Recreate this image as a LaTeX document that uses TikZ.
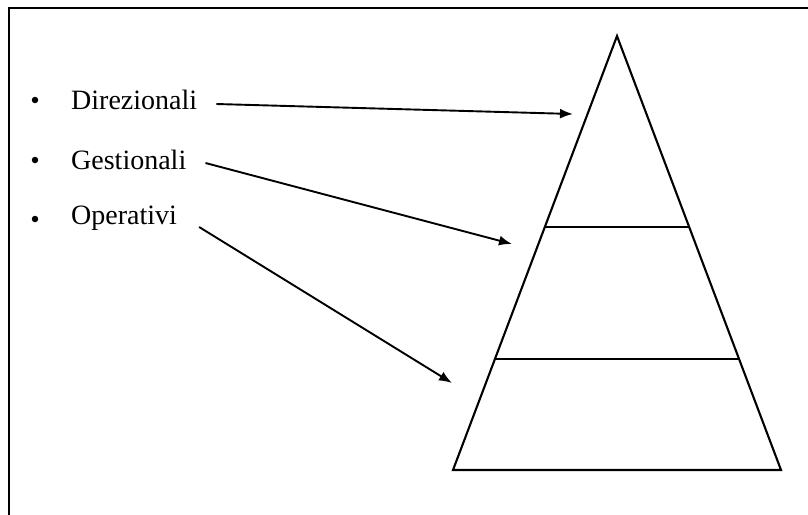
\documentclass[tikz,border=0pt]{standalone}
\usepackage{fontspec}
\setmainfont{Liberation Serif}
\usetikzlibrary{arrows.meta,positioning,calc}
\tikzset{
  livello/.style={font=\fontsize{28}{34}\selectfont, inner sep=0pt, anchor=west},
  punto/.style={circle, fill=black, inner sep=0pt, minimum size=6.5pt},
  freccia/.style={line width=1.9pt, -{Latex[length=13pt,width=10pt]}},
  piramide/.style={line width=2.1pt, line join=miter},
  divisore/.style={line width=2.7pt},
  cornice/.style={line width=2.8pt},
}

\begin{document}
\begin{tikzpicture}[x=1pt, y=-1pt]
\useasboundingbox (0,0) rectangle (808,514);
% Frame (open to the right and bottom)
\draw[cornice] (9,520) -- (9,8) -- (820,8);

% Pyramid
\coordinate (apice) at (617,36);
\coordinate (bsx) at (453,470);
\coordinate (bdx) at (781,470);
\draw[piramide] (apice) -- (bsx) -- (bdx) -- cycle;
\draw[divisore] ($(apice)!0.44!(bsx)$) -- ($(apice)!0.44!(bdx)$);
\draw[divisore] ($(apice)!0.744!(bsx)$) -- ($(apice)!0.744!(bdx)$);

% Levels
\node[livello] (dir) at (71,100) {Direzionali};
\node[livello] (ges) at (71,160) {Gestionali};
\node[livello] (ope) at (71,218) {Operativi};
\node[punto] (p1) at (35,100) {};
\node[punto] (p2) at (35,160) {};
\node[punto] (p3) at (35,219) {};

% Arrow targets
\coordinate (t1) at (573,114);
\coordinate (t2) at (512,244);
\coordinate (t3) at (452,383);
\draw[freccia] ([xshift=19pt,yshift=-4pt]dir.east) -- (t1);
\draw[freccia] ([xshift=19pt,yshift=-3pt]ges.east) -- (t2);
\draw[freccia] ([xshift=22pt,yshift=-9pt]ope.east) -- (t3);
\end{tikzpicture}
\end{document}
